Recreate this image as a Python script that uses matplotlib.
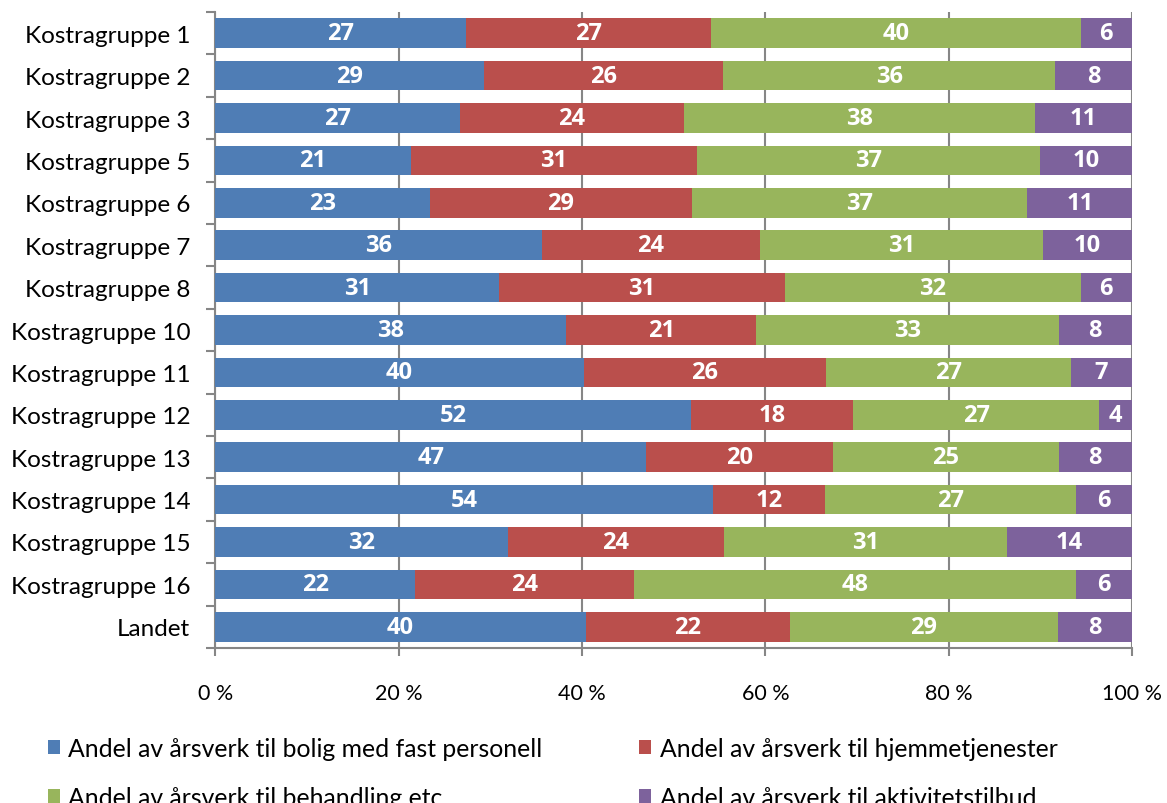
import matplotlib
matplotlib.use("Agg")
import matplotlib.pyplot as plt
from matplotlib.patches import Patch
import numpy as np

categories = ["Kostragruppe 1", "Kostragruppe 2", "Kostragruppe 3", "Kostragruppe 5",
              "Kostragruppe 6", "Kostragruppe 7", "Kostragruppe 8", "Kostragruppe 10",
              "Kostragruppe 11", "Kostragruppe 12", "Kostragruppe 13", "Kostragruppe 14",
              "Kostragruppe 15", "Kostragruppe 16", "Landet"]

bolig = [27.4, 29.3, 26.7, 21.3, 23.4, 35.6, 31.0, 38.3, 40.2, 51.9, 47.0, 54.3, 31.9, 21.8, 40.4]
hjemme = [26.7, 26.1, 24.4, 31.3, 28.6, 23.8, 31.1, 20.7, 26.4, 17.7, 20.4, 12.2, 23.6, 23.9, 22.3]
behandling = [40.3, 36.2, 38.3, 37.4, 36.6, 30.9, 32.3, 33.0, 26.7, 26.8, 24.6, 27.4, 30.9, 48.2, 29.2]
aktivitet = [5.6, 8.4, 10.6, 10.0, 11.4, 9.7, 5.6, 8.0, 6.7, 3.6, 8.0, 6.1, 13.6, 6.1, 8.1]

series_names = ["Andel av årsverk til bolig med fast personell",
                "Andel av årsverk til hjemmetjenester",
                "Andel av årsverk til behandling etc",
                "Andel av årsverk til aktivitetstilbud"]
colors = ["#4F7DB5", "#BA4F4C", "#98B55C", "#7D629C"]
xtick_labels = ["0 %", "20 %", "40 %", "60 %", "80 %", "100 %"]

plt.rcParams['font.family'] = ['Lato', 'DejaVu Sans']

fig = plt.figure(figsize=(11.67, 8.04), dpi=100)
ax = fig.add_axes([0.1845, 0.1928, 0.7855, 0.791])

data = np.array([bolig, hjemme, behandling, aktivitet])
pct = data / data.sum(axis=0) * 100
y = np.arange(len(categories))
left = np.zeros(len(categories))
for i in range(4):
    bars = ax.barh(y, pct[i], left=left, height=0.70, color=colors[i], zorder=3)
    labels = [f"{v:.0f}" for v in data[i]]
    ax.bar_label(bars, labels=labels, label_type='center', color='white',
                 fontsize=17, fontweight='bold', family=['Open Sans', 'DejaVu Sans'])
    left += pct[i]

ax.set_ylim(len(categories) - 0.5, -0.5)
ax.set_xlim(0, 100)
ax.set_xticks([0, 20, 40, 60, 80, 100])
ax.set_xticklabels(xtick_labels, fontsize=15.5)
ax.set_yticks(y)
ax.set_yticklabels(categories, fontsize=17.5)
ax.set_yticks(np.arange(-0.5, len(categories), 1), minor=True)
ax.tick_params(axis='y', which='major', length=0, pad=18)
ax.tick_params(axis='y', which='minor', length=6.5, color='#868686', width=1.5, direction='out')
ax.tick_params(axis='x', which='major', length=6, color='#868686', width=1.5, pad=19)
ax.grid(axis='x', color='#868686', linewidth=1.5, zorder=0)
for s in ['top', 'right']:
    ax.spines[s].set_visible(False)
for s in ['left', 'bottom']:
    ax.spines[s].set_color('#868686')
    ax.spines[s].set_linewidth(1.5)

# legend filled row by row as in the reference (matplotlib fills columns first)
order = [0, 2, 1, 3]
handles = [Patch(facecolor=colors[i]) for i in order]
names = [series_names[i] for i in order]
fig.legend(handles, names, loc='upper left', bbox_to_anchor=(0.041, 0.082),
           ncol=2, frameon=False, fontsize=17.8, handlelength=0.5, handleheight=0.5,
           handletextpad=0.33, columnspacing=3.9, labelspacing=1.03, borderpad=0,
           borderaxespad=0)

fig.savefig("out.png", dpi=100)
